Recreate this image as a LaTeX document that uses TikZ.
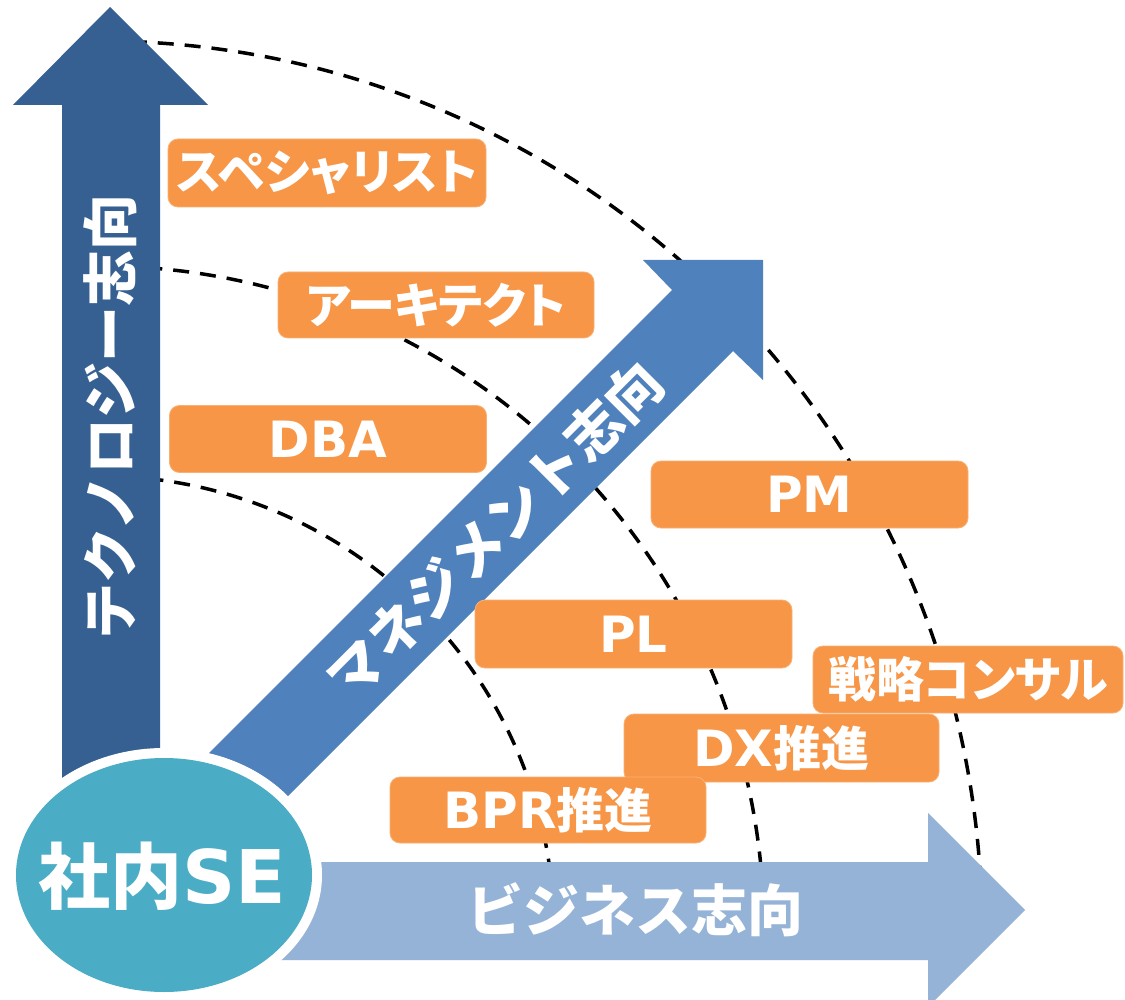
\documentclass[tikz,border=0pt]{standalone}
\usepackage{fontspec}
\usepackage{graphicx}
\newfontfamily\jpfont{Noto Sans CJK JP}
\newfontfamily\jppfont{Noto Sans CJK JP}[RawFeature={+palt}]
\newfontfamily\latfont{DejaVu Sans}
\newcommand\La[1]{{\latfont\bfseries\fontsize{50}{56}\selectfont #1}}
\definecolor{varrowc}{RGB}{54,96,146}
\definecolor{darrowc}{RGB}{79,129,189}
\definecolor{harrowc}{RGB}{149,179,215}
\definecolor{sec}{RGB}{75,172,198}
\definecolor{orangec}{RGB}{247,150,70}
\begin{document}
\begin{tikzpicture}[x=1pt,y=-1pt,
  dashline/.style={draw=black,line width=3.5pt,dash pattern=on 16pt off 11pt},
  obox/.style={fill=orangec,draw=orangec!75!white,line width=0.8pt,rounded corners=10pt,
    text=white,inner sep=0pt,anchor=center,
    font=\jppfont\bfseries\fontsize{48}{56}\selectfont},
  lbl/.style={text=white,inner sep=0pt,font=\jpfont\bfseries\fontsize{56}{60}\selectfont},
  selbl/.style={text=white,inner sep=0pt,font=\jpfont\bfseries\fontsize{72}{76}\selectfont}]
\useasboundingbox (0,0) rectangle (1125,1000);
\fill[white] (0,0) rectangle (1125,1000);

% centre of the dashed arcs
\coordinate (C) at (100,930);
\draw[dashline] ([shift={(88:882pt and 889pt)}]C) arc[start angle=88,end angle=3,x radius=882pt,y radius=889pt];
\draw[dashline] ([shift={(86:664pt)}]C) arc[start angle=86,end angle=5,radius=664pt];
\draw[dashline] ([shift={(84:454pt)}]C) arc[start angle=84,end angle=8,radius=454pt];

% arrows
\fill[varrowc] (110,7) -- (208,105) -- (160,105) -- (160,830) -- (62,830) -- (62,105) -- (13,105) -- cycle;
\fill[darrowc] (763,260) -- (763,380) -- (733,351) -- (231,853) -- (170,792) -- (672,290) -- (643,260) -- cycle;
\fill[harrowc] (1025,910) -- (928,1007) -- (928,960) -- (250,960) -- (250,862) -- (928,862) -- (928,813) -- cycle;

% arrow labels
\node[lbl,rotate=90] (tech) at (110,417) {テクノロジー志向};
\node[lbl,rotate=45] (mgmt) at (495,530) {マネジメント志向};
\node[lbl] (bis) at (635,910) {ビジネス志向};

% central ellipse
\fill[white] (164,875) ellipse [x radius=158pt, y radius=127pt];
\fill[sec] (164,875) ellipse [x radius=148pt, y radius=117pt];
\node[selbl] (se) at (162,876) {社内{\latfont\bfseries\fontsize{74}{76}\selectfont SE}};

% role boxes
\node[obox,minimum width=318pt,minimum height=68pt] (spec) at (327,173) {スペシャリスト};
\node[obox,minimum width=316pt,minimum height=66pt] (arch) at (436,305) {アーキテクト};
\node[obox,minimum width=317pt,minimum height=67pt] (dba) at (328,439) {\La{DBA}};
\node[obox,minimum width=317pt,minimum height=67pt] (pm) at (809.5,494.5) {\La{PM}};
\node[obox,minimum width=317pt,minimum height=68pt] (pl) at (633.5,634) {\La{PL}};
\node[obox,minimum width=310pt,minimum height=67pt] (cons) at (968,679.5) {戦略コンサル};
\node[obox,minimum width=315pt,minimum height=68pt] (dx) at (781.5,748) {\La{DX}推進};
\node[obox,minimum width=316pt,minimum height=66pt] (bpr) at (548,810) {\La{BPR}推進};
\end{tikzpicture}
\end{document}
